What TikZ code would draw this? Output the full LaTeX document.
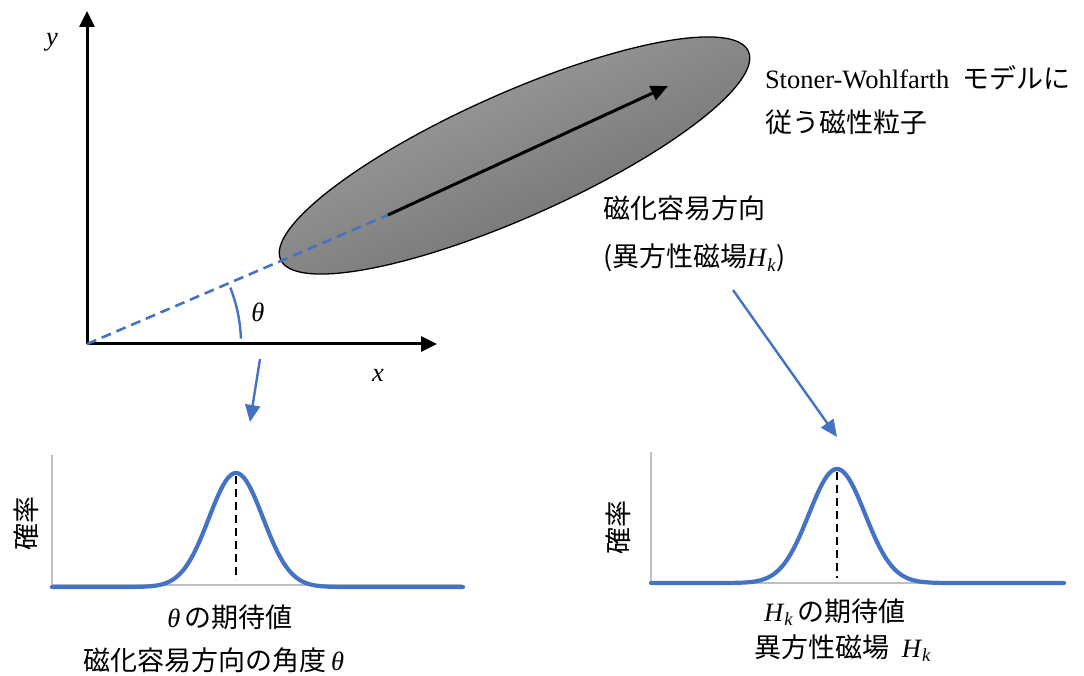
\documentclass[tikz,border=0pt]{standalone}
\usepackage{fontspec}
\setmainfont{Liberation Serif}
\newfontfamily\jp{Noto Sans CJK JP}
\usetikzlibrary{arrows.meta,shapes.geometric}
\definecolor{mblue}{HTML}{4472C4}
\definecolor{axgray}{HTML}{BFBFBF}
\definecolor{ellL}{HTML}{A8A8A8}
\definecolor{ellD}{HTML}{6A6A6A}
\newcommand{\Hsub}{\textit{H}\textsubscript{\textit{k}}}
\begin{document}
\begin{tikzpicture}[x=1pt,y=1pt,
  txt/.style={inner sep=0pt, outer sep=0pt, font=\fontsize{26.5}{31}\selectfont},
  jtxt/.style={inner sep=0pt, outer sep=0pt, font=\fontsize{27}{32}\selectfont\jp},
  mainaxis/.style={line width=3pt, -{Triangle[length=16pt,width=15pt]}},
  bluearrow/.style={draw=mblue, line width=2.4pt, -{Triangle[length=17pt,width=15pt]}},
  bluedash/.style={draw=mblue, line width=2.6pt, dash pattern=on 10pt off 6pt},
  plotaxis/.style={draw=axgray, line width=1.8pt},
  curve/.style={draw=mblue, line width=4.2pt, line cap=round, line join=round},
  peakline/.style={draw=black, line width=2.6pt, dash pattern=on 8pt off 5pt}]
\useasboundingbox (0,0) rectangle (1084,675);

% ---- main coordinate system
\coordinate (O) at (87,331);
\coordinate (ytip) at (87,664);
\coordinate (xtip) at (437,331);
\coordinate (D) at (388,460);
\coordinate (A) at (668,589);

\node[ellipse, draw=black, line width=1.3pt, minimum width=512pt, minimum height=124pt,
      inner sep=0pt, outer sep=0pt, rotate=24, top color=ellL, bottom color=ellD,
      shading angle=25] (particle) at (514.5,519.5) {};

\draw[mainaxis] (O) -- (ytip);
\draw[mainaxis] (O) -- (xtip);
\draw[bluedash] (O) -- (D);
\draw[line width=3pt, -{Triangle[length=17pt,width=15pt]}] (D) -- (A);
\draw[draw=mblue, line width=2.4pt] ([shift={(2:154pt)}]O) arc[start angle=2, end angle=21.5, radius=154pt];

\node[txt] (ylab) at (52,633) {\textit{y}};
\node[txt] (xlab) at (378,300) {\textit{x}};
\node[txt] (thlab) at (258,363) {\textit{θ}};

% ---- labels at right top
\node[txt, anchor=west] (sw1) at (765,597) {Stoner-Wohlfarth\ \ {\fontsize{27}{32}\selectfont\jp モデルに}};
\node[jtxt, anchor=west] (sw2) at (765,553) {従う磁性粒子};
\node[jtxt, anchor=west] (ea1) at (603,467) {磁化容易方向};
\node[jtxt, anchor=west] (ea2) at (603,417) {(異方性磁場{\fontsize{26.5}{31}\rmfamily\selectfont\Hsub})};

% ---- blue arrows
\coordinate (b1s) at (260,316);
\coordinate (b1e) at (250,253);
\coordinate (b2s) at (733,385);
\coordinate (b2e) at (837,238);
\draw[bluearrow] (b1s) -- (b1e);
\draw[bluearrow] (b2s) -- (b2e);

% ---- left distribution
\coordinate (L0) at (52,90);
\coordinate (Ltop) at (52,220);
\coordinate (Lend) at (462,90);
\draw[plotaxis] (Ltop) -- (L0) -- (Lend);
\draw[curve] (52,88) -- plot[domain=-4.5:4.5, samples=121] ({236+27*\x},{88+114*exp(-0.5*\x*\x)}) -- (463,88);
\coordinate (Lp1) at (236,199);
\coordinate (Lp2) at (236,95);
\draw[peakline] (Lp1) -- (Lp2);
\node[jtxt, rotate=90] (Lprob) at (26,152) {確率};
\node[txt] (Lexp) at (230,58) {\textit{θ}\,{\fontsize{27}{32}\selectfont\jp の期待値}};
\node[jtxt] (Lname) at (214,15) {磁化容易方向の角度\,{\fontsize{26.5}{31}\rmfamily\selectfont\textit{θ}}};

% ---- right distribution
\coordinate (R0) at (651,92);
\coordinate (Rtop) at (651,223);
\coordinate (Rend) at (1064,92);
\draw[plotaxis] (Rtop) -- (R0) -- (Rend);
\draw[curve] (651,92) -- plot[domain=-4.5:4.5, samples=121] ({837+28*\x},{92+114*exp(-0.5*\x*\x)}) -- (1064,92);
\coordinate (Rp1) at (837,203);
\coordinate (Rp2) at (837,97);
\draw[peakline] (Rp1) -- (Rp2);
\node[jtxt, rotate=90] (Rprob) at (618,148) {確率};
\node[txt] (Rexp) at (835,63) {\Hsub\,{\fontsize{27}{32}\selectfont\jp の期待値}};
\node[jtxt] (Rname) at (843,27) {異方性磁場\ \ {\fontsize{26.5}{31}\rmfamily\selectfont\Hsub}};
\end{tikzpicture}
\end{document}
